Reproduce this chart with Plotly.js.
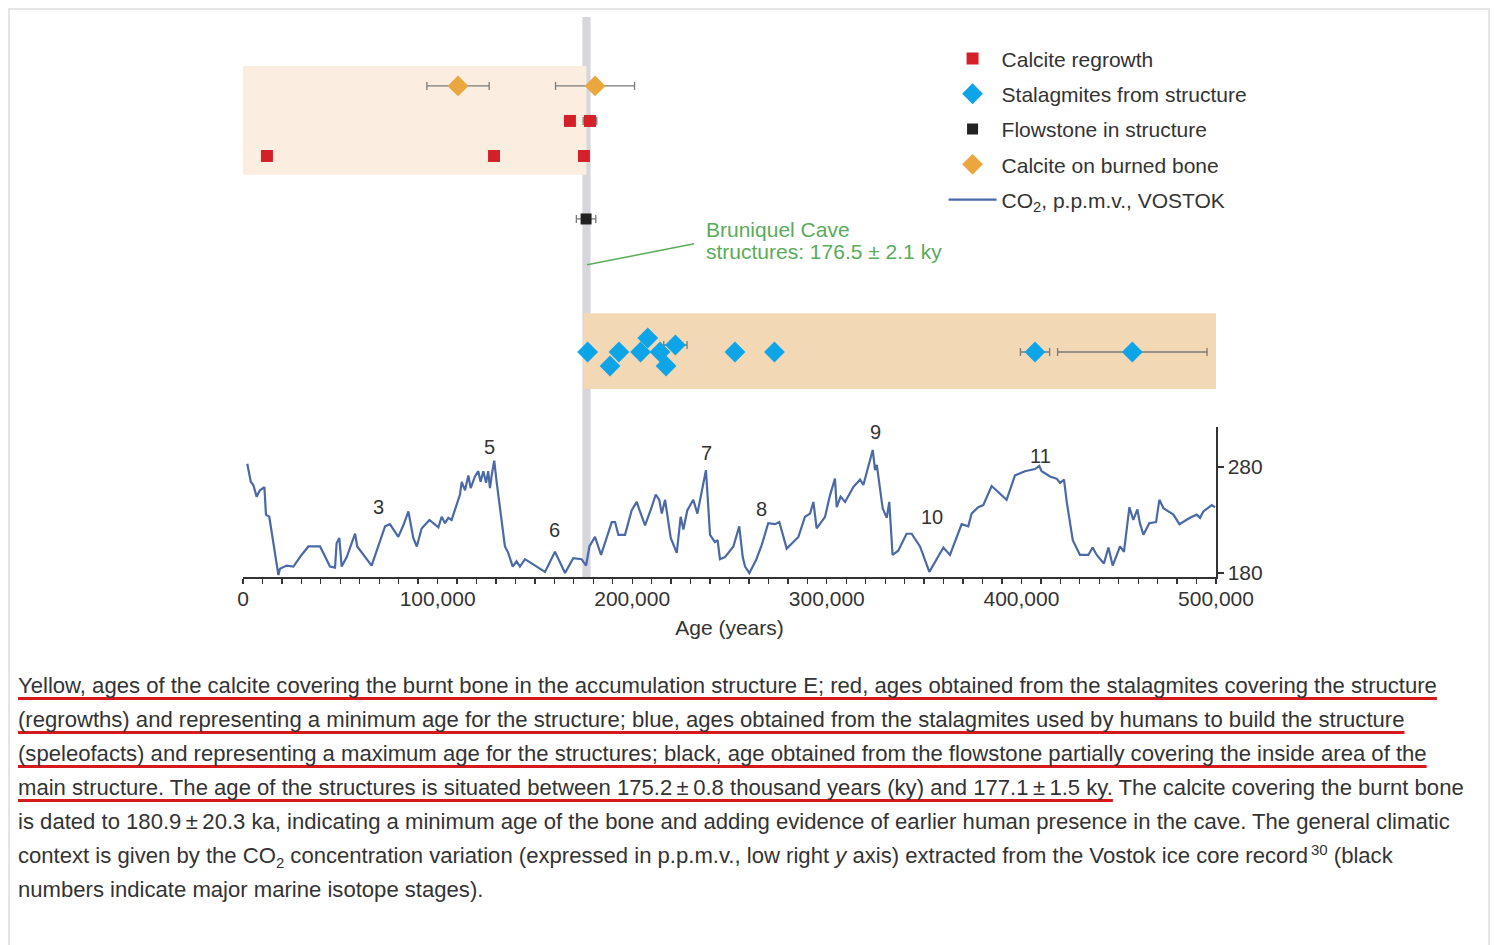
<!DOCTYPE html>
<html>
<head>
<meta charset="utf-8">
<script src="https://cdn.plot.ly/plotly-3.0.1.min.js"></script>
<style>
  html, body { margin:0; padding:0; background:#fff; width:1494px; height:945px; overflow:hidden; }
  #frame { position:absolute; left:8px; top:8px; width:1482px; height:980px; border:2px solid #e6e6e6; box-sizing:border-box; }
  #chart { position:absolute; left:0; top:0; width:1494px; height:660px; }
  #caption { position:absolute; left:18px; top:669px; width:1470px; font-family:"Liberation Sans", Arial, sans-serif; font-size:22.1px; line-height:34px; color:#333; white-space:nowrap; }
  #caption .u { text-decoration:underline; text-decoration-color:#d6191c; text-decoration-thickness:2.5px; text-underline-offset:4px; text-decoration-skip-ink:none; }
  #caption sub { font-size:15px; line-height:0; }
  #caption sup { font-size:15px; line-height:0; }
</style>
</head>
<body>
<div id="frame"></div>
<div id="chart"></div>
<div id="caption">
<span class="u">Yellow, ages of the calcite covering the burnt bone in the accumulation structure E; red, ages obtained from the stalagmites covering the structure<br>(regrowths) and representing a minimum age for the structure; blue, ages obtained from the stalagmites used by humans to build the structure<br>(speleofacts) and representing a maximum age for the structures; black, age obtained from the flowstone partially covering the inside area of the<br>main structure. The age of the structures is situated between 175.2&#8201;±&#8201;0.8 thousand years (ky) and 177.1&#8201;±&#8201;1.5 ky.</span> The calcite covering the burnt bone<br>is dated to 180.9&#8201;±&#8201;20.3 ka, indicating a minimum age of the bone and adding evidence of earlier human presence in the cave. The general climatic<br>context is given by the CO<sub>2</sub> concentration variation (expressed in p.p.m.v., low right <i>y</i> axis) extracted from the Vostok ice core record<sup>&#8201;30</sup> (black<br>numbers indicate major marine isotope stages).
</div>
<script>
// ---------------- DATA ----------------
// Vostok CO2 record (age in years, ppmv)
const co2Age = [2200,4000,5300,7000,8700,11000,11800,13500,18200,19000,22400,25900,30100,33600,39600,44700,47300,48100,49500,50700,53300,57600,58700,66100,73000,75500,79800,82400,85000,87500,89300,91800,95800,100400,102100,103800,105500,107200,111500,112400,114100,115800,117000,119200,120900,122100,123500,124900,126000,126900,127800,129100,130400,134600,136300,138600,140600,142300,144900,155200,160300,165500,169700,174000,176300,178000,180900,184000,189500,191200,192900,196300,199700,202300,204000,206600,210000,212100,213900,215200,216900,219800,222900,224900,226300,228300,231400,233500,237900,240000,242500,243900,245100,247700,252000,255000,256800,258000,260200,263600,266500,269900,273400,275600,279400,285400,288800,291400,293100,294800,299100,301600,304200,305100,307100,309400,313600,317100,318800,320500,323600,324800,325700,328700,330800,332100,333800,336700,341000,343600,347900,352700,359900,363300,369300,372700,374400,377800,380400,384700,392400,396700,401800,407000,409200,410400,414700,418100,419900,421900,423300,426400,430100,434400,436600,438700,442400,444700,446900,450700,452700,455500,457500,459600,460900,462700,465700,469200,470900,473000,478100,481200,486600,490100,491800,493500,497800,499500];
const co2Ppm = [283,266,263,252,258,261,235,233,178,184,187,186,197,205,205,186,185,208,213,186,195,217,205,187,224,226,214,225,238,213,205,222,230,223,233,227,232,230,254,266,258,272,260,271,276,266,276,265,276,260,272,286,265,205,199,186,191,186,193,181,200,180,194,193,187,205,214,197,228,228,216,216,239,247,238,225,242,254,249,236,249,213,199,233,221,239,249,236,277,216,209,211,193,195,205,224,195,186,180,192,206,227,226,228,203,214,233,236,247,222,233,253,269,242,252,247,261,268,263,274,296,277,282,241,232,247,197,201,217,217,205,181,204,197,226,224,236,242,244,262,249,272,276,278,281,276,271,269,265,268,247,211,197,197,204,197,189,204,187,205,200,242,230,240,227,216,227,228,249,241,235,226,232,235,232,238,244,242];

// Calcite regrowth (red squares)
const redAge = [12300, 129000, 175200, 168000, 178300];
const redRow = [7, 7, 7, 8, 8];
const redErr = [0, 0, 0, 0, 3500];

// Stalagmites from structure (blue diamonds)
const blueAge = [177100, 188600, 193200, 204300, 208000, 214300, 217400, 222200, 252800, 273100, 407000, 457000];
const blueRow = [1.4, 1.0, 1.4, 1.4, 1.8, 1.4, 1.0, 1.6, 1.4, 1.4, 1.4, 1.4];
const blueErr = [0, 2500, 0, 0, 0, 0, 0, 6000, 0, 0, 7500, 38400];

// Flowstone in structure (black square)
const blackAge = [176300];
const blackRow = [5.2];
const blackErr = [5000];

// Calcite on burned bone (orange diamonds)
const orangeAge = [110500, 180900];
const orangeRow = [9, 9];
const orangeErr = [16000, 20300];

// Marine isotope stage labels
const misNames = ['3', '5', '6', '7', '8', '9', '10', '11'];
const misAge = [69400, 126700, 160300, 238400, 266200, 324900, 354100, 409600];
const misPpm = [242, 299, 221, 293, 240, 313, 233, 290];

// Structure age band
const structAge = 176500, structErr = 2100;
const bandLabel = ['Bruniquel Cave', 'structures: 176.5 ± 2.1 ky'];

// Tick values
const xTicks = [0, 100000, 200000, 300000, 400000, 500000];
const yTicks = [180, 280];

// ---------------- CHART ----------------
const FONT = '"Liberation Sans", Arial, Helvetica, sans-serif';
const TXT = '#333';
const FS = 21;
const errStyle = (arr) => ({type:'data', array:arr, visible:true, color:'#7a7a7a', thickness:1.3, width:4});

const traces = [
  {x: co2Age, y: co2Ppm, type:'scatter', mode:'lines', name:'CO<sub>2</sub>, p.p.m.v., VOSTOK',
   line:{color:'#4a69a6', width:2.2}, xaxis:'x', yaxis:'y', legendrank:5, legendgroup:'e', hoverinfo:'skip'},
  {x: redAge, y: redRow, type:'scatter', mode:'markers', name:'Calcite regrowth',
   marker:{symbol:'square', size:12, color:'#d42129'}, error_x: errStyle(redErr), yaxis:'y2', legendrank:1, legendgroup:'a'},
  {x: blueAge, y: blueRow, type:'scatter', mode:'markers', name:'Stalagmites from structure',
   marker:{symbol:'diamond', size:16, color:'#0ea5e8'}, error_x: errStyle(blueErr), yaxis:'y2', legendrank:2, legendgroup:'b'},
  {x: blackAge, y: blackRow, type:'scatter', mode:'markers', name:'Flowstone in structure',
   marker:{symbol:'square', size:11, color:'#222'}, error_x: errStyle(blackErr), yaxis:'y2', legendrank:3, legendgroup:'c'},
  {x: orangeAge, y: orangeRow, type:'scatter', mode:'markers', name:'Calcite on burned bone',
   marker:{symbol:'diamond', size:16, color:'#e9a73d'}, error_x: errStyle(orangeErr), yaxis:'y2', legendrank:4, legendgroup:'d'}
];

const annotations = misNames.map((n, i) => ({
  x: misAge[i], y: misPpm[i], xref:'x', yref:'y', text:n, showarrow:false,
  font:{family:FONT, size:20, color:TXT}
}));
annotations.push({
  x: 237000, y: 4.886, xref:'x', yref:'y2', xanchor:'left', yanchor:'middle', align:'left',
  text:bandLabel[0], showarrow:false, font:{family:FONT, size:FS, color:'#5aab5a'}
});
annotations.push({
  x: 237000, y: 4.257, xref:'x', yref:'y2', xanchor:'left', yanchor:'middle', align:'left',
  text:bandLabel[1], showarrow:false, font:{family:FONT, size:FS, color:'#5aab5a'}
});

const shapes = [
  {type:'rect', xref:'x', yref:'y2', x0:0, x1:structAge, y0:6.46, y1:9.57, fillcolor:'#fbede0', line:{width:0}, layer:'below'},
  {type:'rect', xref:'x', yref:'y2', x0:structAge - 1500, x1:500000, y0:0.34, y1:2.51, fillcolor:'#f3d8b6', line:{width:0}, layer:'below'},
  {type:'rect', xref:'x', yref:'paper', x0:structAge - structErr, x1:structAge + structErr, y0:0, y1:1, fillcolor:'rgba(200,200,208,0.75)', line:{width:0}, layer:'below'},
  {type:'line', xref:'x', yref:'y2', x0:176800, y0:3.89, x1:231800, y1:4.49, line:{color:'#5aab5a', width:1.5}}
];

const layout = {
  width:1494, height:660,
  margin:{l:243, r:278, t:17, b:83},
  paper_bgcolor:'rgba(0,0,0,0)', plot_bgcolor:'rgba(0,0,0,0)',
  font:{family:FONT, size:FS, color:TXT},
  showlegend:true,
  legend:{x:0.720, y:0.962, xanchor:'left', yanchor:'top', bgcolor:'rgba(0,0,0,0)',
          font:{family:FONT, size:FS, color:TXT}, tracegroupgap:5, itemwidth:48, traceorder:'grouped'},
  xaxis:{range:[0, 500000], domain:[0,1], anchor:'y', showgrid:false, zeroline:false,
         showline:true, linecolor:'#333', linewidth:1.5,
         tickvals:xTicks, tickformat:',d', ticks:'outside', ticklen:5, tickwidth:1.3, tickcolor:'#333',
         ticklabelstandoff:-3,
         tickfont:{family:FONT, size:FS, color:TXT},
         minor:{dtick:10000, ticks:'outside', ticklen:5, tickwidth:1.3, tickcolor:'#333', showgrid:false},
         title:{text:'Age (years)', font:{family:FONT, size:FS, color:TXT}, standoff:11}},
  yaxis:{domain:[0, 0.2679], range:[176.2, 317.7], side:'right', anchor:'x', showgrid:false, zeroline:false,
         showline:true, linecolor:'#333', linewidth:1.5,
         tickvals:yTicks, ticks:'outside', ticklen:6, tickwidth:1.3, tickcolor:'#333',
         tickfont:{family:FONT, size:FS, color:TXT}},
  yaxis2:{domain:[0.3143, 1], range:[0, 10.97], anchor:'x', visible:false, showgrid:false, zeroline:false},
  shapes:shapes,
  annotations:annotations
};

Plotly.newPlot('chart', traces, layout, {displayModeBar:false, staticPlot:true});
</script>
</body>
</html>
